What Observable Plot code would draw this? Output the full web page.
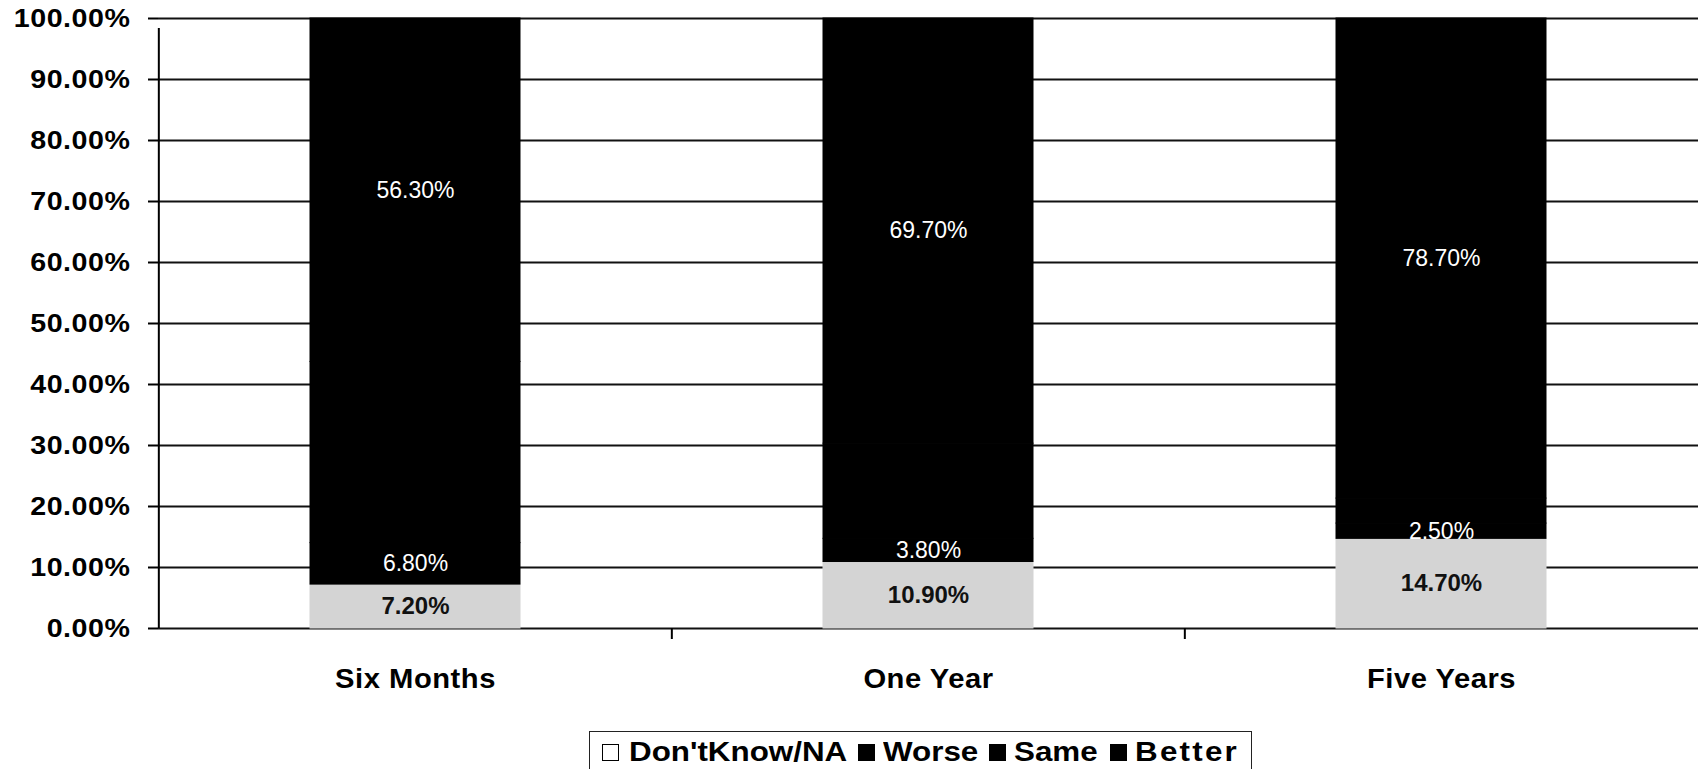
<!DOCTYPE html>
<html>
<head>
<meta charset="utf-8">
<script src="https://cdn.jsdelivr.net/npm/d3@7"></script>
<script src="https://cdn.jsdelivr.net/npm/@observablehq/plot@0.6"></script>
<style>
html,body{margin:0;padding:0;background:#fff;overflow:hidden}
#wrap{position:relative;width:1698px;height:769px;font-family:"Liberation Sans",Arial,Helvetica,sans-serif;color:#000}
g[aria-label="y-axis tick label"] text{letter-spacing:0.5px}
g[aria-label="x-axis tick label"] text{letter-spacing:0.5px}
#legend{position:absolute;left:589px;top:731px;width:663px;height:60px;border:1.5px solid #222;box-sizing:border-box;background:#fff}
#legend .sq{position:absolute;top:12px;width:17px;height:17px;box-sizing:border-box}
#legend .tx{position:absolute;top:6px;font-size:28px;line-height:28px;font-weight:bold;white-space:nowrap;transform-origin:0 50%;transform:scaleX(1.12)}
</style>
</head>
<body>
<div id="wrap"><div id="chart"></div><div id="legend"></div></div>
<script>
// ---- data ----
const periods = ["Six Months", "One Year", "Five Years"];
const seriesNames = ["Don'tKnow/NA", "Worse", "Same", "Better"];
const dontKnow = [7.2, 10.9, 14.7];
const worse = [6.8, 3.8, 2.5];
const same = [29.7, 15.6, 4.1];
const better = [56.3, 69.7, 78.7];
const yTicks = [0, 10, 20, 30, 40, 50, 60, 70, 80, 90, 100];

const seriesValues = [dontKnow, worse, same, better];
const labelled = new Set(["Don'tKnow/NA", "Worse", "Better"]);
const rows = periods.flatMap((p, i) =>
  seriesNames.map((s, j) => ({period: p, series: s, value: seriesValues[j][i]}))
);
const fmt = v => v.toFixed(2) + "%";

const W = 1698, left = 158;
const step = (W - left) / periods.length;

const chart = Plot.plot({
  width: W,
  height: 725,
  marginLeft: left,
  marginRight: 0,
  marginTop: 18,
  marginBottom: 97,
  style: {fontFamily: '"Liberation Sans", Arial, Helvetica, sans-serif', color: "#000", background: "#fff"},
  x: {domain: periods, paddingInner: 0.591, paddingOuter: 0.2955, label: null},
  y: {domain: [0, 100], label: null},
  color: {domain: seriesNames, range: ["#d4d4d4", "#000", "#000", "#000"]},
  marks: [
    Plot.ruleY(yTicks, {stroke: "#111", strokeWidth: 2.2}),
    Plot.barY(rows, {x: "period", y: "value", fill: "series", stroke: "series", strokeWidth: 1}),
    Plot.text(rows, Plot.stackY({
      x: "period", y: "value", z: "series",
      text: d => d.series === "Don'tKnow/NA" ? fmt(d.value) : null,
      fill: "#111", fontSize: 24, fontWeight: "bold"
    })),
    Plot.text(rows, Plot.stackY({
      x: "period", y: "value", z: "series",
      text: d => (labelled.has(d.series) && d.series !== "Don'tKnow/NA") ? fmt(d.value) : null,
      fill: "#fff", fontSize: 23
    })),
    // y axis line (at left edge of first band)
    Plot.ruleX([periods[0]], {x: d => d, y1: 0, y2: 100, dx: -step / 2, insetBottom: -10, stroke: "#000", strokeWidth: 2}),
    // x-axis tick marks at category boundaries
    Plot.ruleX(periods.slice(1), {x: d => d, y1: 0, y2: 0, dx: -step / 2, insetBottom: -11, stroke: "#000", strokeWidth: 2}),
    Plot.axisY({ticks: yTicks, tickFormat: fmt, tickSize: 10, tickPadding: 18, fontSize: 26, fontWeight: "bold", strokeWidth: 2}),
    Plot.axisX({tickSize: 0, tickPadding: 40, fontSize: 27, fontWeight: "bold"})
  ]
});
document.getElementById("chart").appendChild(chart);

// widen axis label glyphs horizontally (the reference font is wide)
function widen(sel, s) {
  chart.querySelectorAll(sel).forEach(el => {
    const t = el.getAttribute("transform") || "";
    const x = +(el.getAttribute("x") || 0);
    el.setAttribute("transform", `${t} translate(${x},0) scale(${s},1) translate(${-x},0)`);
  });
}
widen('g[aria-label="y-axis tick label"] text', 1.1);
widen('g[aria-label="x-axis tick label"] text', 1.08);

// ---- legend (HTML, below the SVG) ----
const legendItems = [
  {name: "Don'tKnow/NA", sq: 12, tx: 39, ls: 0, fill: "#fff"},
  {name: "Worse", sq: 268, tx: 293, ls: 0, fill: "#000"},
  {name: "Same", sq: 399, tx: 424, ls: 0, fill: "#000"},
  {name: "Better", sq: 520, tx: 545, ls: 2, fill: "#000"}
];
const lg = document.getElementById("legend");
legendItems.forEach(it => {
  const sq = document.createElement("div");
  sq.className = "sq";
  sq.style.left = it.sq + "px";
  sq.style.background = it.fill;
  sq.style.border = "1.5px solid #000";
  lg.appendChild(sq);
  const tx = document.createElement("div");
  tx.className = "tx";
  tx.style.left = it.tx + "px";
  tx.style.letterSpacing = it.ls + "px";
  tx.textContent = it.name;
  lg.appendChild(tx);
});
</script>
</body>
</html>
